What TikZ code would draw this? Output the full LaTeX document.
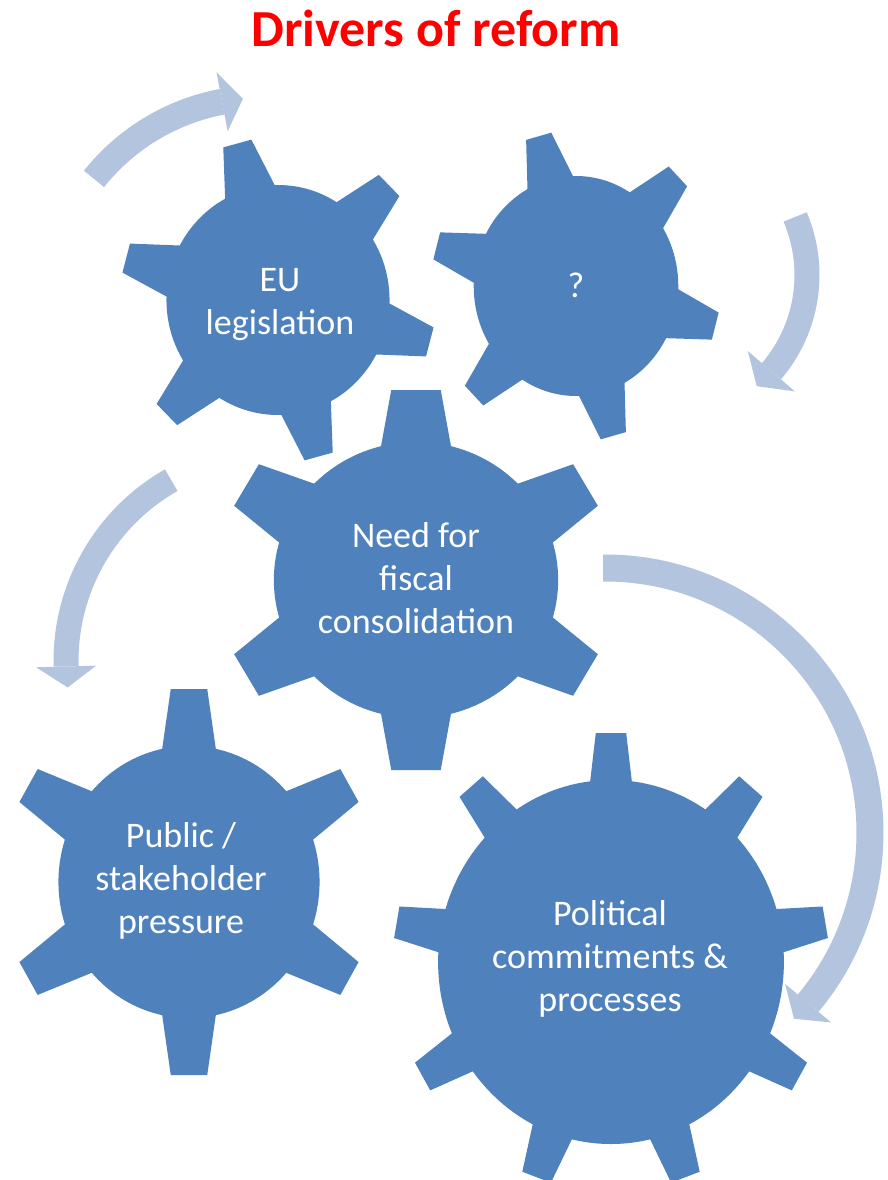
\documentclass[tikz,border=0pt]{standalone}
\usepackage{fontspec}
\setmainfont{Carlito}

\definecolor{gearblue}{HTML}{4F81BD}
\definecolor{flowblue}{HTML}{B3C4DF}
\definecolor{titlered}{HTML}{FF0000}

\tikzset{
  gearfill/.style={fill=gearblue},
  flow/.style={draw=flowblue, line cap=butt},
  flowhead/.style={fill=flowblue},
  gearlabel/.style={text=white, align=center, font=\fontsize{36}{43}\selectfont},
  heading/.style={text=titlered, font=\fontsize{52}{62}\selectfont\bfseries},
}

% gear: teeth, body radius, tip radius, base half width, tip half width, first tooth angle
\newcommand{\gearbody}[6]{%
  \fill[gearfill] (0,0) circle[radius=#2pt];
  \foreach \k in {1,...,#1}
    \fill[gearfill, rotate={#6+360/#1*\k}] (#2pt-10pt,-#4pt) -- (#3pt,-#5pt) -- (#3pt,#5pt) -- (#2pt-10pt,#4pt) -- cycle;
}

% bent block arrow: centre, radius, tail angle, tip angle, shaft width, head half width
\newcommand{\bentarrow}[6]{%
  \pgfmathsetmacro{\baseang}{#4+(#3>#4 ? 1 : -1)*21/#2*57.3}
  \draw[flow, line width=#5pt] ([shift={(#1)}]#3:#2pt) arc[start angle=#3, end angle=\baseang, radius=#2pt];
  \fill[flowhead] ([shift={(#1)}]\baseang:#2pt-#6pt) -- ([shift={(#1)}]\baseang:#2pt+#6pt) -- ([shift={(#1)}]#4:#2pt) -- cycle;
}

\begin{document}
\begin{tikzpicture}[x=1pt,y=-1pt]
  \useasboundingbox (0,0) rectangle (887,1180);
  \fill[white] (0,0) rectangle (887,1180);

  % title
  \node[heading, anchor=base] (title) at (436,47) {Drivers of reform};

  % arrows round the gears
  \bentarrow{262,313}{215}{141.4}{95.1}{26}{30}
  \bentarrow{659,275}{148}{23.1}{-48.7}{25}{31}
  \bentarrow{274,661}{208}{119.6}{187.3}{25}{30}
  \bentarrow{605,833}{265}{90.4}{-44.5}{27}{30}

  % gears
  \begin{scope}[shift={(278,300)}, xscale=0.97]
    \gearbody{6}{115}{162}{28}{15}{-15}
  \end{scope}
  \begin{scope}[shift={(576,286)}, xscale=0.93]
    \gearbody{6}{110}{155}{27}{14}{-15}
  \end{scope}
  \begin{scope}[shift={(416,580)}, xscale=1.03]
    \gearbody{6}{138}{190}{35}{24}{30}
  \end{scope}
  \begin{scope}[shift={(189,882)}, xscale=0.96]
    \gearbody{6}{136}{193}{29}{19}{30}
  \end{scope}
  \begin{scope}[shift={(611,962)}, xscale=0.95]
    \gearbody{9}{182}{229}{23}{16}{90}
  \end{scope}

  % labels
  \node[gearlabel] (eu) at (280,305) {EU\\legislation};
  \node[gearlabel] (unknown) at (576,285) {?};
  \node[gearlabel] (fiscal) at (416,578) {Need for\\fiscal\\consolidation};
  \node[gearlabel] (public) at (181,881) {Public /\\stakeholder\\pressure};
  \node[gearlabel] (political) at (610,959) {Political\\commitments \&\\processes};
\end{tikzpicture}
\end{document}
